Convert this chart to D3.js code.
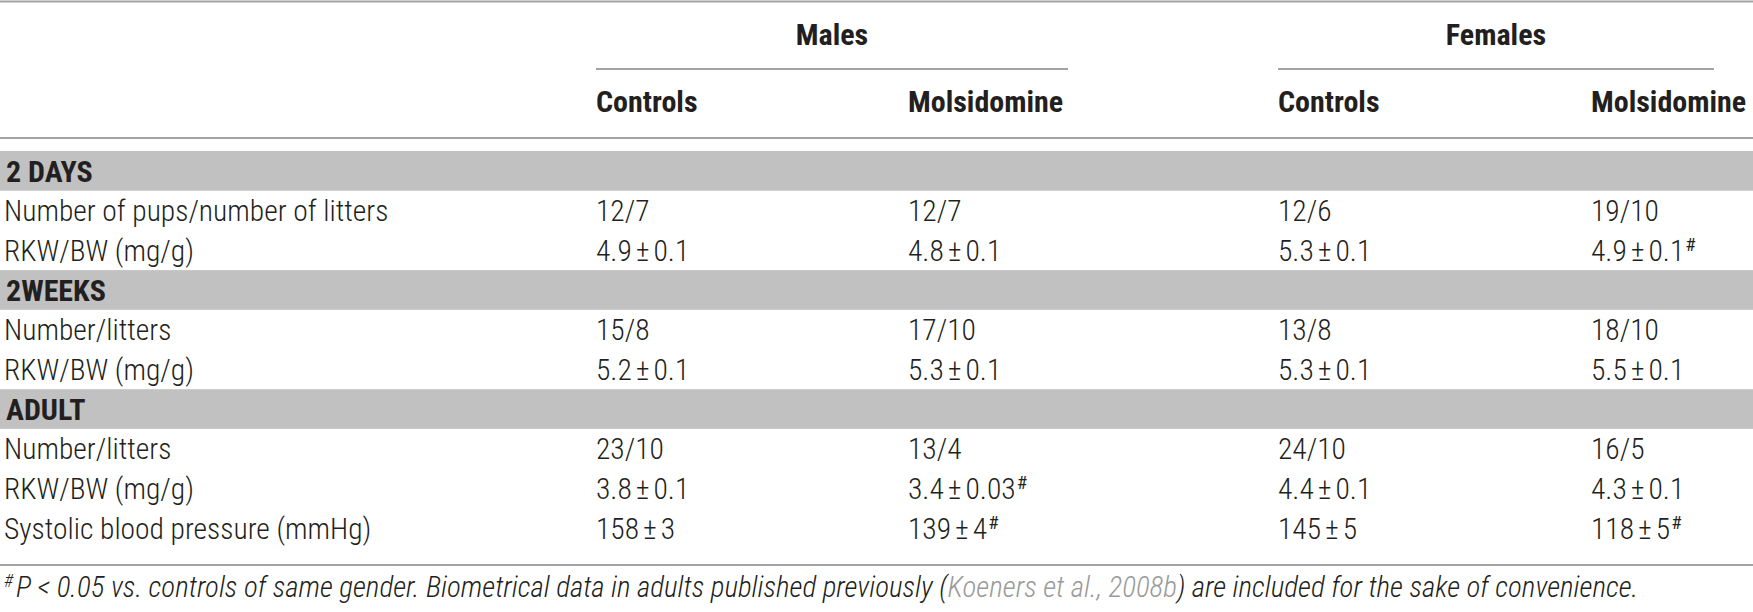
<!DOCTYPE html>
<html>
<head>
<meta charset="utf-8">
<script src="https://cdn.jsdelivr.net/npm/d3@7"></script>
<style>
    body { margin: 0; background: #fff; }
    svg text { font-family: "Liberation Sans Narrow", "Roboto Condensed", "DejaVu Sans Condensed", sans-serif; fill: #231f20; }
</style>
</head>
<body>
<svg id="table"></svg>
<script>
// table content
const groups = ['Males', 'Females'];
const treatments = ['Controls', 'Molsidomine'];
const columnKeys = ['mc', 'mm', 'fc', 'fm'];
const sections = ['2 DAYS', '2WEEKS', 'ADULT'];
const rowLabels = [
    ['Number of pups/number of litters', 'RKW/BW (mg/g)'],
    ['Number/litters', 'RKW/BW (mg/g)'],
    ['Number/litters', 'RKW/BW (mg/g)', 'Systolic blood pressure (mmHg)']
];
const maleControls = [['12/7', '4.9±0.1'], ['15/8', '5.2±0.1'], ['23/10', '3.8±0.1', '158±3']];
const maleMolsidomine = [['12/7', '4.8±0.1'], ['17/10', '5.3±0.1'], ['13/4', '3.4±0.03#', '139±4#']];
const femaleControls = [['12/6', '5.3±0.1'], ['13/8', '5.3±0.1'], ['24/10', '4.4±0.1', '145±5']];
const femaleMolsidomine = [['19/10', '4.9±0.1#'], ['18/10', '5.5±0.1'], ['16/5', '4.3±0.1', '118±5#']];
const footBefore = 'P < 0.05 vs. controls of same gender. Biometrical data in adults published previously (';
const footCite = 'Koeners et al., 2008b';
const footAfter = ') are included for the sake of convenience.';

const W = 1753, H = 612;
const svg = d3.select('#table').attr('width', W).attr('height', H);

const columnData = [maleControls, maleMolsidomine, femaleControls, femaleMolsidomine];

// flatten into rows: section bands + data rows
const rows = [];
sections.forEach((s, si) => {
    rows.push({ type: 'section', label: s });
    rowLabels[si].forEach((lab, ri) => {
        rows.push({ type: 'data', label: lab, cells: columnData.map((c) => c[si][ri]) });
    });
});

const y = d3.scaleBand().domain(d3.range(rows.length)).range([151, 548]);
const x = d3.scaleOrdinal().domain(columnKeys).range([596, 908, 1278, 1591]);
const groupSpan = d3.scaleOrdinal().domain(groups).range([[596, 1068], [1278, 1714]]);

const lineColor = '#a3a3a3';
const fontSize = 29.5;
const headSize = 30;

function hline(x1, x2, yy, w) {
    svg.append('line')
        .attr('x1', x1).attr('x2', x2)
        .attr('y1', yy).attr('y2', yy)
        .attr('stroke', lineColor)
        .attr('stroke-width', w);
}

hline(0, W, 1.5, 2);
hline(0, W, 138, 2);
hline(0, W, 565, 2);

// group headers
groups.forEach((g) => {
    const [a, b] = groupSpan(g);
    hline(a, b, 69, 2);
    svg.append('text')
        .attr('x', (a + b) / 2)
        .attr('y', 34)
        .attr('dy', '0.36em')
        .attr('text-anchor', 'middle')
        .attr('font-size', headSize)
        .attr('font-weight', 'bold')
        .text(g);
});

columnKeys.forEach((k, i) => {
    svg.append('text')
        .attr('x', x(k))
        .attr('y', 101)
        .attr('dy', '0.36em')
        .attr('font-size', headSize)
        .attr('font-weight', 'bold')
        .text(treatments[i % 2]);
});

// section bands
const sectionRows = rows.map((r, i) => ({ ...r, i })).filter((r) => r.type === 'section');
svg.selectAll('rect.band')
    .data(sectionRows)
    .enter()
    .append('rect')
    .attr('class', 'band')
    .attr('x', 0)
    .attr('width', W)
    .attr('y', (d) => y(d.i))
    .attr('height', y.bandwidth())
    .attr('fill', '#c1c1c1');

svg.selectAll('text.section')
    .data(sectionRows)
    .enter()
    .append('text')
    .attr('class', 'section')
    .attr('x', 6)
    .attr('y', (d) => y(d.i) + y.bandwidth() / 2)
    .attr('dy', '0.36em')
    .attr('font-size', headSize)
    .attr('font-weight', 'bold')
    .text((d) => d.label);

// data rows
const dataRows = rows.map((r, i) => ({ ...r, i })).filter((r) => r.type === 'data');

svg.selectAll('text.label')
    .data(dataRows)
    .enter()
    .append('text')
    .attr('class', 'label')
    .attr('x', 4)
    .attr('y', (d) => y(d.i) + y.bandwidth() / 2)
    .attr('dy', '0.36em')
    .attr('font-size', fontSize)
    .attr('font-weight', 300)
    .text((d) => d.label);

function writeCell(sel, val) {
    const sig = val.endsWith('#');
    const core = sig ? val.slice(0, -1) : val;
    const parts = core.split('±');
    sel.append('tspan').text(parts[0]);
    if (parts.length > 1) {
        sel.append('tspan').attr('dx', 4).text('±');
        sel.append('tspan').attr('dx', 4).text(parts[1]);
    }
    if (sig) {
        sel.append('tspan')
            .attr('dx', 1)
            .attr('dy', -10)
            .attr('font-size', 19)
            .attr('font-weight', 400)
            .text('#');
    }
}

dataRows.forEach((r) => {
    r.cells.forEach((val, ci) => {
        const t = svg.append('text')
            .attr('x', x(columnKeys[ci]))
            .attr('y', y(r.i) + y.bandwidth() / 2)
            .attr('dy', '0.36em')
            .attr('font-size', fontSize)
            .attr('font-weight', 300);
        writeCell(t, val);
    });
});

// footnote
const foot = svg.append('text')
    .attr('x', 4)
    .attr('y', 597)
    .attr('dy', '0.36em')
    .attr('font-size', 29)
    .attr('font-weight', 300)
    .attr('font-style', 'italic');
foot.append('tspan').attr('font-size', 18).attr('dy', -10).text('#');
foot.append('tspan').attr('dy', 10).attr('dx', 3).text(footBefore);
foot.append('tspan').style('fill', '#9a9a9a').text(footCite);
foot.append('tspan').text(footAfter);
</script>
</body>
</html>
